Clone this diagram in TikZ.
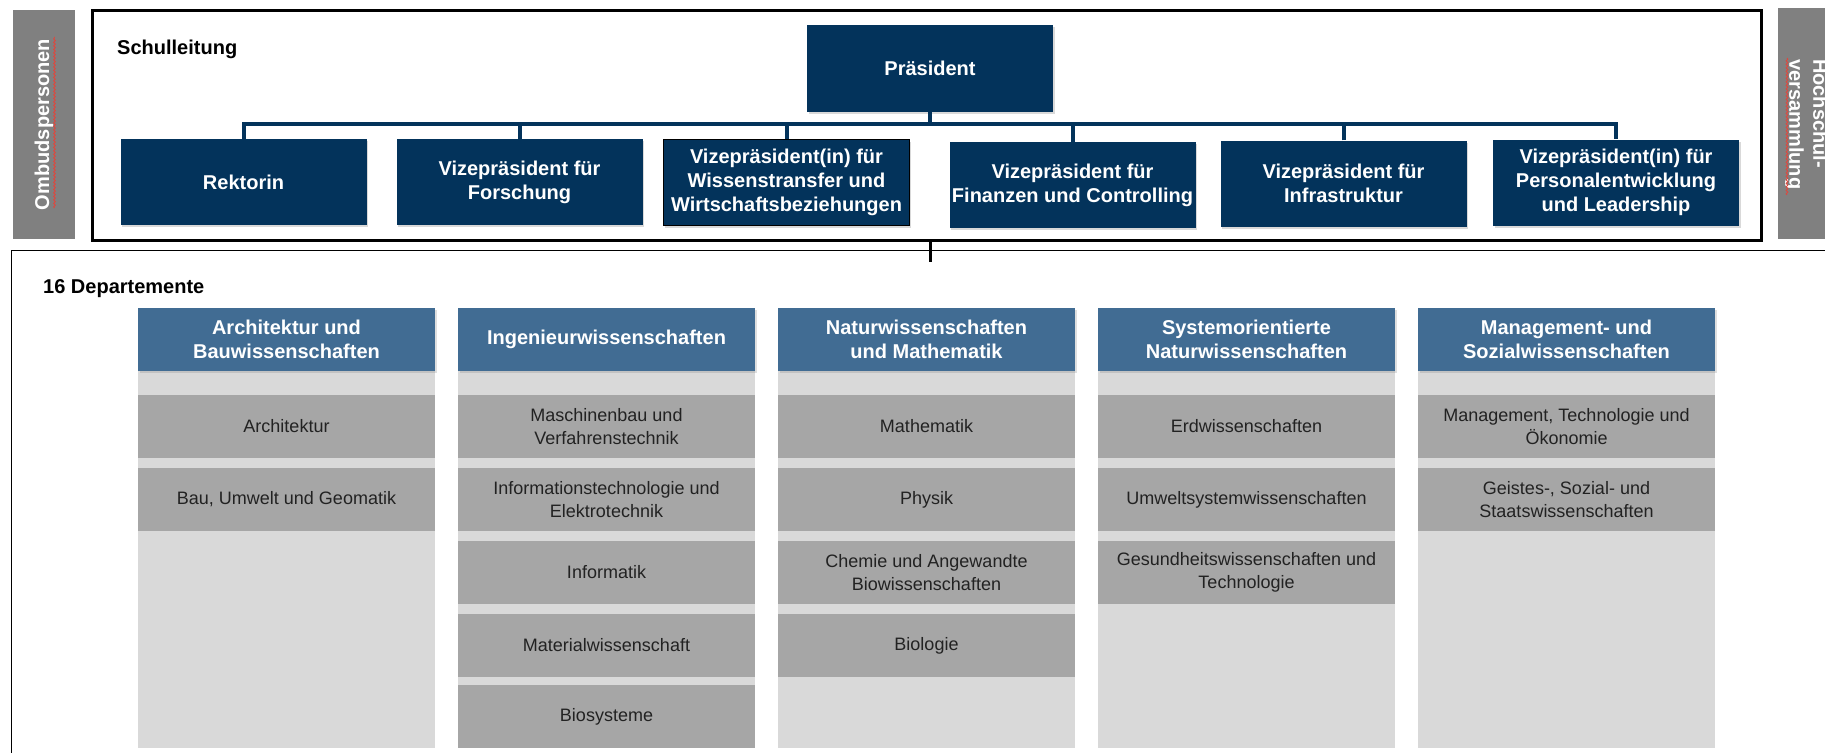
\documentclass[tikz,border=0pt]{standalone}
\usepackage{fontspec}
\setmainfont{Liberation Sans}
\usetikzlibrary{shadows,decorations.pathmorphing}
\definecolor{navy}{HTML}{03335B}
\definecolor{headblue}{HTML}{416C93}
\definecolor{subgray}{HTML}{A6A6A6}
\definecolor{bggray}{HTML}{D9D9D9}
\definecolor{sidegray}{HTML}{808080}
\definecolor{squig}{HTML}{E0463C}
\definecolor{subtext}{HTML}{222222}
\begin{document}
\begin{tikzpicture}[x=1pt,y=-1pt,
  bigbold/.style={font=\fontsize{20}{24}\selectfont\bfseries},
  topbox/.style={bigbold, fill=navy, text=white, align=center, minimum width=246pt, minimum height=86pt, inner sep=0pt,
    drop shadow={shadow xshift=1.5pt, shadow yshift=-2pt, opacity=0.3}},
  headbox/.style={bigbold, fill=headblue, text=white, align=center, minimum width=297pt, minimum height=63pt, inner sep=0pt,
    drop shadow={shadow xshift=1.5pt, shadow yshift=-2pt, opacity=0.25}},
  bgcol/.style={fill=bggray, minimum width=297pt, minimum height=440pt, inner sep=0pt},
  subbox/.style={fill=subgray, text=subtext, font=\fontsize{18}{23}\selectfont, align=center, minimum width=297pt, minimum height=63pt, inner sep=0pt},
  sidebox/.style={fill=sidegray, inner sep=0pt},
  bus/.style={draw=navy, line width=4pt},
  squiggle/.style={draw=squig, line width=0.8pt, decorate, decoration={snake, segment length=3.5pt, amplitude=0.9pt}}
]
\useasboundingbox (0,0) rectangle (1825,752);
\clip (0,0) rectangle (1825,752);

% side boxes
\node[sidebox, bigbold, text=white, rotate=90, minimum width=229pt, minimum height=62pt] (omb) at (44,124.5) {Ombudspersonen};
\node[sidebox, minimum width=62pt, minimum height=231pt] (hsv) at (1809,123.5) {};
\node[bigbold, text=white, rotate=-90, anchor=west, align=left, inner sep=0pt] (hsvtext) at (1806.5,59) {Hochschul-\\versammlung};
\draw[squiggle] (54.5,208) -- (54.5,37);
\draw[squiggle] (1787,58) -- (1787,195);

% Schulleitung frame
\node[draw, line width=3pt, minimum width=1669pt, minimum height=229pt, inner sep=0pt] (schul) at (926.5,125.5) {};
\node[bigbold, anchor=base west, inner sep=0pt] (schullabel) at (117,55) {Schulleitung};

% Departemente frame
\node[draw, line width=1.3pt, anchor=north west, minimum width=1840pt, minimum height=540pt, inner sep=0pt] (deptframe) at (11,250) {};
\node[bigbold, anchor=base west, inner sep=0pt] (deptlabel) at (43,293) {16 Departemente};

% top boxes
\node[topbox] (pres) at (930,68.5) {Präsident};
\node[topbox] (rek) at (243.5,182) {Rektorin};
\node[topbox] (forsch) at (519.5,182) {Vizepräsident für\\Forschung};
\node[topbox, draw=black, line width=1pt] (wiss) at (786.5,182.5) {Vizepräsident(in) für\\Wissenstransfer und\\Wirtschaftsbeziehungen};
\node[topbox] (fin) at (1072.5,185) {Vizepräsident für\\Finanzen und Controlling};
\node[topbox] (infra) at (1343.5,183.5) {Vizepräsident für\\Infrastruktur};
\node[topbox] (pers) at (1616,182.5) {Vizepräsident(in) für\\Personalentwicklung\\und Leadership};

% bus
\coordinate (busl) at (0,124);
\draw[bus] (rek.north) -- (rek.north |- busl) -- (pers.north |- busl) -- (pers.north);
\foreach \n in {forsch,wiss,fin,infra} \draw[bus] (\n.north) -- (\n.north |- busl);
\draw[bus] (pres.south) -- (pres.south |- busl);

% link between frames
\coordinate (linkend) at (930,262);
\draw[line width=3pt] (schul.south -| pres.south) -- (linkend);

% columns
\foreach \c/\x in {1/286.5,2/606.5,3/926.5,4/1246.5,5/1566.5}
  \node[bgcol] (bg\c) at (\x,528) {};

\node[headbox] (h1) at (286.5,339.5) {Architektur und\\Bauwissenschaften};
\node[headbox] (h2) at (606.5,339.5) {Ingenieurwissenschaften};
\node[headbox] (h3) at (926.5,339.5) {Naturwissenschaften\\und Mathematik};
\node[headbox] (h4) at (1246.5,339.5) {Systemorientierte\\Naturwissenschaften};
\node[headbox] (h5) at (1566.5,339.5) {Management- und\\Sozialwissenschaften};

\node[subbox] (s11) at (286.5,426.5) {Architektur};
\node[subbox] (s12) at (286.5,499.5) {Bau, Umwelt und Geomatik};

\node[subbox] (s21) at (606.5,426.5) {Maschinenbau und\\Verfahrenstechnik};
\node[subbox] (s22) at (606.5,499.5) {Informationstechnologie und\\Elektrotechnik};
\node[subbox] (s23) at (606.5,572.5) {Informatik};
\node[subbox] (s24) at (606.5,645.5) {Materialwissenschaft};
\node[subbox] (s25) at (606.5,716.5) {Biosysteme};

\node[subbox] (s31) at (926.5,426.5) {Mathematik};
\node[subbox] (s32) at (926.5,499.5) {Physik};
\node[subbox] (s33) at (926.5,572.5) {Chemie und Angewandte\\Biowissenschaften};
\node[subbox] (s34) at (926.5,645.5) {Biologie};

\node[subbox] (s41) at (1246.5,426.5) {Erdwissenschaften};
\node[subbox] (s42) at (1246.5,499.5) {Umweltsystemwissenschaften};
\node[subbox] (s43) at (1246.5,572.5) {Gesundheitswissenschaften und\\Technologie};

\node[subbox] (s51) at (1566.5,426.5) {Management, Technologie und\\Ökonomie};
\node[subbox] (s52) at (1566.5,499.5) {Geistes-, Sozial- und\\Staatswissenschaften};
\end{tikzpicture}
\end{document}
